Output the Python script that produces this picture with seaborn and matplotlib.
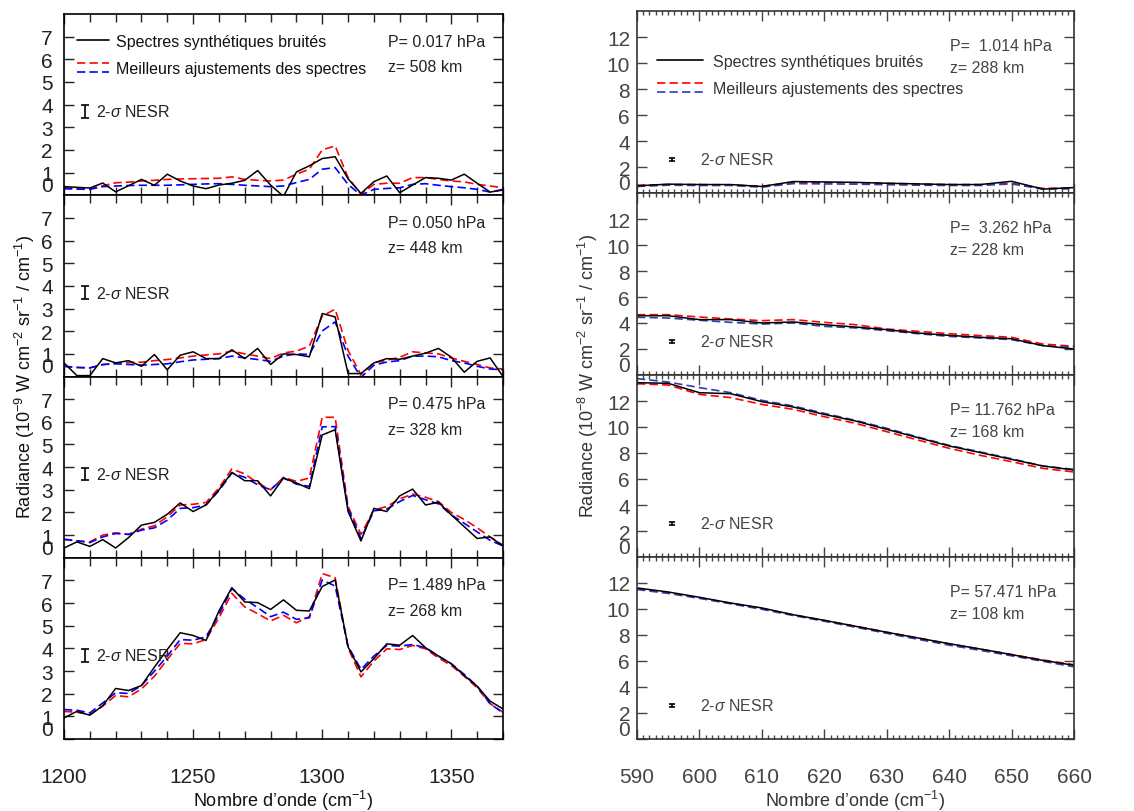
import matplotlib
matplotlib.use("Agg")
import matplotlib.pyplot as plt
import seaborn as sns
from matplotlib.lines import Line2D
from matplotlib.legend_handler import HandlerBase
from matplotlib.ticker import MultipleLocator

# --- données : nombres d'onde ---
wn_left = [1200 + 5 * k for k in range(35)]
wn_right = [590, 595, 600, 605, 610, 615, 620, 625, 630, 635, 640, 645, 650, 655, 660]

# --- colonne gauche (10^-9 W cm-2 sr-1 / cm-1) ---
obs_l1 = [0.38, 0.35, 0.32, 0.54, 0.15, 0.42, 0.70, 0.44, 0.93, 0.63, 0.41, 0.29, 0.45, 0.53, 0.66, 1.09, 0.45, -0.05,
          1.03, 1.30, 1.62, 1.70, 0.73, 0.08, 0.60, 0.85, 0.11, 0.45, 0.78, 0.75, 0.67, 0.93, 0.53, 0.14, 0.23]
red_l1 = [0.33, 0.30, 0.29, 0.42, 0.55, 0.58, 0.63, 0.66, 0.70, 0.72, 0.73, 0.74, 0.75, 0.81, 0.70, 0.66, 0.63, 0.67,
          0.93, 1.15, 2.00, 2.18, 0.78, 0.04, 0.48, 0.53, 0.53, 0.78, 0.78, 0.70, 0.63, 0.59, 0.48, 0.41, 0.33]
blue_l1 = [0.29, 0.27, 0.26, 0.38, 0.41, 0.43, 0.44, 0.44, 0.44, 0.46, 0.48, 0.50, 0.51, 0.48, 0.44, 0.41, 0.38, 0.41,
           0.56, 0.70, 1.15, 1.22, 0.48, 0.00, 0.26, 0.30, 0.33, 0.48, 0.51, 0.44, 0.38, 0.33, 0.26, 0.14, 0.26]

obs_l2 = [0.60, 0.04, 0.04, 0.79, 0.60, 0.70, 0.45, 0.97, 0.30, 0.94, 1.09, 0.79, 0.79, 1.18, 0.79, 1.24, 0.53, 1.00,
          0.97, 0.87, 2.78, 2.63, 0.13, 0.13, 0.60, 0.79, 0.76, 0.90, 1.03, 1.24, 0.85, 0.19, 0.67, 0.82, 0.00]
red_l2 = [0.45, 0.40, 0.38, 0.52, 0.60, 0.62, 0.63, 0.70, 0.75, 0.82, 0.90, 0.95, 1.00, 1.12, 1.00, 0.90, 0.79, 1.04,
          1.12, 1.34, 2.67, 2.97, 1.15, 0.08, 0.60, 0.72, 0.85, 1.09, 1.04, 1.00, 0.82, 0.67, 0.53, 0.38, 0.33]
blue_l2 = [0.45, 0.40, 0.38, 0.53, 0.56, 0.53, 0.50, 0.53, 0.56, 0.65, 0.73, 0.76, 0.79, 0.90, 0.82, 0.75, 0.67, 0.90,
           1.00, 0.97, 2.01, 2.41, 0.90, -0.04, 0.50, 0.64, 0.70, 0.90, 0.90, 0.87, 0.70, 0.60, 0.45, 0.33, 0.30]

obs_l3 = [0.43, 0.70, 0.50, 0.80, 0.43, 0.89, 1.44, 1.56, 1.92, 2.42, 2.04, 2.33, 3.00, 3.77, 3.40, 3.40, 2.73, 3.52,
          3.30, 3.05, 5.42, 5.65, 2.04, 0.74, 2.18, 2.04, 2.73, 3.03, 2.33, 2.45, 1.89, 1.37, 0.85, 0.92, 0.52]
red_l3 = [0.80, 0.75, 0.70, 1.00, 1.10, 1.03, 1.26, 1.41, 1.81, 2.33, 2.36, 2.44, 3.08, 3.92, 3.70, 3.30, 3.00, 3.55,
          3.37, 3.52, 6.20, 6.20, 2.26, 1.03, 2.11, 2.26, 2.60, 2.81, 2.67, 2.48, 2.00, 1.69, 1.32, 0.92, 0.55]
blue_l3 = [0.82, 0.75, 0.67, 0.92, 1.07, 1.03, 1.22, 1.32, 1.66, 2.18, 2.21, 2.33, 2.96, 3.74, 3.55, 3.22, 3.00, 3.52,
           3.25, 3.15, 5.78, 5.79, 2.18, 0.85, 2.07, 2.15, 2.48, 2.75, 2.56, 2.38, 1.89, 1.52, 1.14, 0.77, 0.52]

obs_l4 = [0.93, 1.22, 1.05, 1.47, 2.23, 2.14, 2.36, 3.17, 3.95, 4.69, 4.57, 4.35, 5.65, 6.68, 6.05, 6.02, 5.72, 6.14,
          5.68, 5.65, 6.73, 7.02, 4.07, 2.96, 3.55, 4.20, 4.14, 4.57, 4.03, 3.66, 3.32, 2.80, 2.33, 1.67, 1.33]
red_l4 = [1.22, 1.18, 1.08, 1.45, 1.92, 1.86, 2.21, 2.77, 3.51, 4.22, 4.20, 4.39, 5.35, 6.43, 5.83, 5.53, 5.21, 5.46,
          5.13, 5.40, 7.30, 7.12, 4.03, 2.74, 3.44, 3.98, 3.95, 4.13, 3.98, 3.58, 3.24, 2.77, 2.26, 1.56, 1.18]
blue_l4 = [1.30, 1.27, 1.15, 1.59, 2.04, 2.01, 2.36, 2.99, 3.66, 4.39, 4.36, 4.51, 5.50, 6.64, 6.17, 5.80, 5.40, 5.60,
           5.28, 5.35, 7.02, 6.75, 4.10, 3.07, 3.66, 4.13, 4.10, 4.17, 4.03, 3.66, 3.32, 2.85, 2.33, 1.56, 1.15]

# --- colonne droite (10^-8 W cm-2 sr-1 / cm-1) ---
obs_r1 = [0.55, 0.68, 0.65, 0.65, 0.50, 0.88, 0.85, 0.82, 0.75, 0.70, 0.65, 0.65, 0.90, 0.30, 0.42]
red_r1 = [0.60, 0.65, 0.65, 0.62, 0.52, 0.80, 0.80, 0.78, 0.75, 0.70, 0.65, 0.65, 0.75, 0.35, 0.40]
blue_r1 = [0.50, 0.60, 0.58, 0.58, 0.45, 0.72, 0.70, 0.68, 0.64, 0.60, 0.58, 0.58, 0.70, 0.30, 0.32]

obs_r2 = [4.56, 4.56, 4.26, 4.26, 4.00, 4.08, 3.87, 3.69, 3.49, 3.23, 3.05, 2.90, 2.79, 2.26, 2.00]
red_r2 = [4.64, 4.64, 4.46, 4.31, 4.18, 4.26, 4.05, 3.87, 3.54, 3.36, 3.18, 3.03, 2.90, 2.38, 2.21]
blue_r2 = [4.44, 4.38, 4.21, 4.05, 3.92, 4.00, 3.74, 3.62, 3.41, 3.18, 2.97, 2.85, 2.72, 2.26, 2.13]

obs_r3 = [13.41, 13.36, 12.64, 12.56, 11.95, 11.54, 10.97, 10.46, 9.82, 9.18, 8.54, 8.03, 7.51, 7.00, 6.69]
red_r3 = [13.33, 13.23, 12.51, 12.26, 11.74, 11.36, 10.79, 10.28, 9.64, 9.00, 8.36, 7.82, 7.33, 6.82, 6.54]
blue_r3 = [13.72, 13.46, 13.03, 12.64, 12.05, 11.62, 11.05, 10.51, 9.90, 9.23, 8.59, 8.08, 7.56, 7.00, 6.74]

obs_r4 = [11.62, 11.31, 10.90, 10.46, 10.08, 9.56, 9.13, 8.67, 8.21, 7.77, 7.33, 6.92, 6.49, 6.05, 5.67]
red_r4 = [11.55, 11.25, 10.87, 10.45, 10.04, 9.56, 9.12, 8.68, 8.22, 7.77, 7.33, 6.92, 6.50, 6.08, 5.72]
blue_r4 = [11.50, 11.20, 10.82, 10.40, 9.98, 9.50, 9.06, 8.60, 8.13, 7.67, 7.22, 6.82, 6.40, 5.98, 5.55]

p_left = ["P= 0.017 hPa", "P= 0.050 hPa", "P= 0.475 hPa", "P= 1.489 hPa"]
z_left = ["z= 508 km", "z= 448 km", "z= 328 km", "z= 268 km"]
p_right = ["P=  1.014 hPa", "P=  3.262 hPa", "P= 11.762 hPa", "P= 57.471 hPa"]
z_right = ["z= 288 km", "z= 228 km", "z= 168 km", "z= 108 km"]

nesr_left = (1208, 3.7, 0.28)
nesr_right = (595.6, 2.6, 0.12)

sns.set_style("ticks")
plt.rcParams['font.family'] = ['Liberation Sans', 'DejaVu Sans']
plt.rcParams['mathtext.fontset'] = 'custom'
plt.rcParams['mathtext.rm'] = 'Liberation Sans'
plt.rcParams['mathtext.it'] = 'Liberation Sans:italic'


class DoubleDash(HandlerBase):
    """poignée de légende : tiret rouge au-dessus d'un tiret bleu"""
    def __init__(self, blue):
        super().__init__()
        self.blue = blue

    def create_artists(self, legend, orig_handle, xdescent, ydescent, width, height, fontsize, trans):
        y0 = -ydescent
        r = Line2D([-xdescent, width - xdescent], [y0 + 0.85 * height] * 2, color="red", ls=(0, (5, 2.5)), lw=1.2)
        b = Line2D([-xdescent, width - xdescent], [y0 + 0.05 * height] * 2, color=self.blue, ls=(0, (5, 2.5)), lw=1.2)
        r.set_transform(trans)
        b.set_transform(trans)
        return [r, b]


fig = plt.figure(figsize=(11.34, 8.12), dpi=100)
W, H = 1134.0, 812.0

left_sets = [(obs_l1, red_l1, blue_l1), (obs_l2, red_l2, blue_l2),
             (obs_l3, red_l3, blue_l3), (obs_l4, red_l4, blue_l4)]
right_sets = [(obs_r1, red_r1, blue_r1), (obs_r2, red_r2, blue_r2),
              (obs_r3, red_r3, blue_r3), (obs_r4, red_r4, blue_r4)]


def draw_column(x0, x1, top, bottom, sets, wn, col):
    h = (bottom - top) / 4.0
    txt_col = "#222222" if col == "L" else "#444444"
    blue = "#0000ff" if col == "L" else "#2a3fb0"
    axes = []
    for i, (obs, red, blu) in enumerate(sets):
        ax = fig.add_axes([x0 / W, 1 - (top + (i + 1) * h) / H, (x1 - x0) / W, h / H])
        sns.lineplot(x=wn, y=red, ax=ax, color="red", lw=1.2, linestyle=(0, (5, 2.5)))
        sns.lineplot(x=wn, y=blu, ax=ax, color=blue, lw=1.2, linestyle=(0, (5, 2.5)))
        sns.lineplot(x=wn, y=obs, ax=ax, color="black", lw=1.1)
        if col == "L":
            ax.set_xlim(1200, 1370)
            ax.set_ylim(0, 8)
            ax.set_yticks(range(0, 8))
            ax.xaxis.set_major_locator(MultipleLocator(50))
            ax.xaxis.set_minor_locator(MultipleLocator(10))
            nx, ny, ne = nesr_left
            ax.errorbar([nx], [ny], yerr=[ne], fmt="none", ecolor="black", elinewidth=1.2, capsize=3, capthick=1.2)
            ax.text(nx + 4.4, ny, "2-$\\mathit{\\sigma}$ NESR", fontsize=11.5, va="center", color=txt_col)
            ax.text(0.738, 0.85, p_left[i], transform=ax.transAxes, fontsize=11.5, va="center", color=txt_col)
            ax.text(0.738, 0.71, z_left[i], transform=ax.transAxes, fontsize=11.5, va="center", color=txt_col)
            ax.tick_params(axis="y", pad=8)
        else:
            ax.set_xlim(590, 660)
            ax.set_ylim(0, 14)
            ax.set_yticks(range(0, 13, 2))
            ax.xaxis.set_major_locator(MultipleLocator(10))
            ax.xaxis.set_minor_locator(MultipleLocator(1))
            nx, ny, ne = nesr_right
            ax.errorbar([nx], [ny], yerr=[ne], fmt="none", ecolor="black", elinewidth=1.2, capsize=2.5, capthick=1.2)
            ax.text(600.1, ny, "2-$\\mathit{\\sigma}$ NESR", fontsize=11.5, va="center", color=txt_col)
            ax.text(0.716, 0.81, p_right[i], transform=ax.transAxes, fontsize=11.5, va="center", color=txt_col)
            ax.text(0.716, 0.69, z_right[i], transform=ax.transAxes, fontsize=11.5, va="center", color=txt_col)
            ax.tick_params(axis="y", pad=5)
        ax.set_xlabel("")
        ax.set_ylabel("")
        ax.tick_params(which="both", direction="in", top=True, right=True, labelsize=15,
                       labelcolor=txt_col, color=txt_col)
        ax.tick_params(which="major", length=7, width=1)
        ax.tick_params(which="minor", length=6 if col == "L" else 3, width=1)
        ax.tick_params(axis="x", pad=20)
        for s in ax.spines.values():
            s.set_linewidth(1.2)
            s.set_color("black" if col == "L" else "#333333")
        if i < 3:
            ax.tick_params(axis="x", labelbottom=False)
        fig.canvas.draw()
        ax.get_yticklabels()[0].set_verticalalignment("bottom")
        axes.append(ax)
    return axes


axL = draw_column(64, 503, 15, 740, left_sets, wn_left, "L")
axR = draw_column(637, 1074, 12, 740, right_sets, wn_right, "R")

# légendes
h_obs = Line2D([], [], color="black", lw=1.2)
h_fit = Line2D([], [], color="red", ls="--")
axL[0].legend([h_obs, h_fit], ["Spectres synthétiques bruités", "Meilleurs ajustements des spectres"],
              handler_map={h_fit: DoubleDash("#0000ff")}, loc="upper left", bbox_to_anchor=(0.03, 0.89),
              frameon=False, fontsize=11.5, handlelength=2.0, handletextpad=0.45, labelspacing=0.75,
              borderpad=0, borderaxespad=0, labelcolor="#111111")
h_fit2 = Line2D([], [], color="red", ls="--")
axR[0].legend([h_obs, h_fit2], ["Spectres synthétiques bruités", "Meilleurs ajustements des spectres"],
              handler_map={h_fit2: DoubleDash("#2a3fb0")}, loc="upper left", bbox_to_anchor=(0.045, 0.765),
              frameon=False, fontsize=11.5, handlelength=2.9, handletextpad=0.65, labelspacing=0.75,
              borderpad=0, borderaxespad=0, labelcolor="#333333")

fig.text(25 / W, 1 - 377 / H, "Radiance (10$^{-9}$ W cm$^{-2}$ sr$^{-1}$ / cm$^{-1}$)", rotation=90,
         ha="center", va="center", fontsize=13, color="#111111")
fig.text(588 / W, 1 - 376 / H, "Radiance (10$^{-8}$ W cm$^{-2}$ sr$^{-1}$ / cm$^{-1}$)", rotation=90,
         ha="center", va="center", fontsize=13, color="#333333")
fig.text(283 / W, 1 - 801 / H, "Nombre d\u2019onde (cm$^{-1}$)", ha="center", va="center", fontsize=13, color="#111111")
fig.text(855 / W, 1 - 801 / H, "Nombre d\u2019onde (cm$^{-1}$)", ha="center", va="center", fontsize=13, color="#333333")

fig.savefig("out.png", dpi=100)
